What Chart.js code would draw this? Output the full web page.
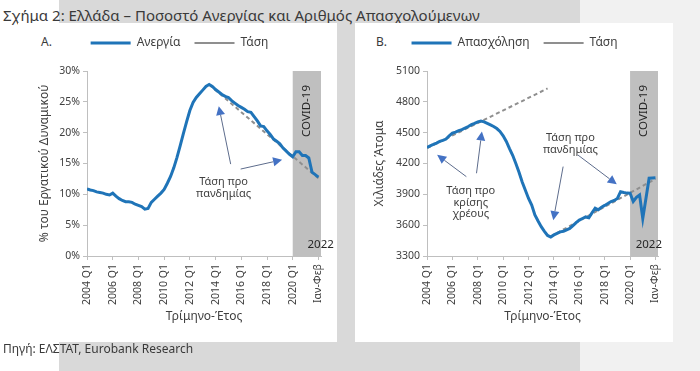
<!DOCTYPE html>
<html>
<head>
<meta charset="utf-8">
<script src="https://cdn.jsdelivr.net/npm/chart.js@4.4.1/dist/chart.umd.min.js"></script>
<style>
  html, body { margin: 0; padding: 0; }
  body { width: 700px; height: 371px; position: relative; overflow: hidden; background: #fff;
         font-family: 'Noto Sans', sans-serif; color: #3a3a3a; }
  .band { position: absolute; left: 59px; top: 0; width: 521px; height: 371px; background: #d9d9d9; }
  .side { position: absolute; left: 580px; top: 0; width: 120px; height: 371px; background: #f1f1f1; }
  .title { position: absolute; left: 3px; top: 5px; font-size: 15px; line-height: 20px; white-space: nowrap; }
  .card { position: absolute; top: 23px; height: 319px; background: #fff; }
  #cardA { left: 18px; width: 319px; }
  #cardB { left: 355px; width: 318px; }
  .tag { position: absolute; top: 11px; font-size: 12px; line-height: 16px; }
  .src { position: absolute; left: 3px; top: 341px; font-size: 12px; line-height: 16px; white-space: nowrap; }
  canvas { position: absolute; left: 0; top: 0; }
</style>
</head>
<body>
<div class="band"></div>
<div class="side"></div>
<div class="title">Σχήμα 2: Ελλάδα – Ποσοστό Ανεργίας και Αριθμός Απασχολούμενων</div>
<div class="card" id="cardA"><div class="tag" style="left:23px">Α.</div><canvas id="chartA" width="319" height="319"></canvas></div>
<div class="card" id="cardB"><div class="tag" style="left:21px">Β.</div><canvas id="chartB" width="318" height="319"></canvas></div>
<div class="src">Πηγή: ΕΛΣΤΑΤ, Eurobank Research</div>

<script>
// x axis: quarters 2004 Q1 ... 2021 Q4, then Jan-Feb 2022 (index 72)
const tickLabels = ['2004 Q1', '2006 Q1', '2008 Q1', '2010 Q1', '2012 Q1', '2014 Q1',
                    '2016 Q1', '2018 Q1', '2020 Q1', 'Ιαν-Φεβ'];
const covidFrom = 64;

// Panel A: unemployment rate, % of labour force
const unemployment = [
  10.9, 10.7, 10.6, 10.4, 10.3, 10.2, 10.0, 9.9,
  10.2, 9.7, 9.3, 9.0, 8.8, 8.8, 8.7, 8.4,
  8.2, 8.0, 7.6, 7.7, 8.7, 9.2, 9.7, 10.2,
  10.8, 11.8, 12.9, 14.3, 16.0, 17.9, 19.9, 21.8,
  23.6, 24.9, 25.7, 26.3, 26.9, 27.5, 27.8, 27.5,
  27.0, 26.6, 26.2, 25.9, 25.7, 25.2, 24.8, 24.4,
  24.1, 23.8, 23.4, 23.3, 22.6, 21.9, 21.1, 21.0,
  20.3, 19.7, 19.0, 18.6, 18.2, 17.5, 17.0, 16.5,
  16.1, 16.9, 16.9, 16.3, 16.3, 15.9, 13.6, 13.2,
  12.8
];
const unempTrendX = [38, 72];
const unempTrendY = [27.8, 12.6];

// Panel B: employment, thousands of persons
const employment = [
  4356, 4372, 4385, 4399, 4415, 4425, 4438, 4470,
  4496, 4505, 4520, 4529, 4545, 4560, 4578, 4590,
  4605, 4612, 4605, 4590, 4575, 4560, 4540, 4512,
  4470, 4414, 4345, 4280, 4200, 4115, 4020, 3940,
  3860, 3795, 3700, 3640, 3585, 3540, 3500, 3485,
  3505, 3520, 3535, 3540, 3555, 3568, 3595, 3625,
  3649, 3665, 3680, 3672, 3720, 3765, 3750, 3775,
  3792, 3810, 3830, 3840, 3860, 3926, 3918, 3912,
  3910, 3830, 3870, 3893, 3665, 3860, 4057, 4060,
  4062
];
const debtTrendX = [0, 38];
const debtTrendY = [4350, 4930];
const pandTrendX = [39, 72];
const pandTrendY = [3490, 4050];

const blue = '#1f74b8';
const grey = '#8f8f8f';

Chart.defaults.font.family = "'Noto Sans', sans-serif";
Chart.defaults.color = '#404040';

const points = vals => vals.map((v, i) => ({ x: i, y: v }));
const segment = (xs, ys) => xs.map((x, i) => ({ x, y: ys[i] }));

// extra room under the legend, and a small sideways shift of it
const legendTweak = {
  id: 'legendTweak',
  beforeLayout(chart, args, opts) {
    const lg = chart.legend;
    if (lg && !lg._tweaked) {
      const fit = lg.fit;
      const draw = lg.draw;
      lg.fit = function () { fit.call(this); this.height += opts.extra; };
      lg.draw = function () {
        const c = this.ctx;
        c.save();
        c.translate(opts.dx, 0);
        draw.call(this);
        c.restore();
      };
      lg._tweaked = true;
    }
  }
};

const covidBand = {
  id: 'covidBand',
  beforeDatasetsDraw(chart, args, o) {
    const { ctx, chartArea: a, scales: { x } } = chart;
    const x1 = x.getPixelForValue(o.from);
    ctx.save();
    ctx.fillStyle = '#bfbfbf';
    ctx.fillRect(x1, a.top, a.right - x1, a.bottom - a.top);
    ctx.fillStyle = '#262626';
    ctx.font = "11.5px 'Noto Sans'";
    ctx.textAlign = 'center';
    ctx.textBaseline = 'middle';
    ctx.fillText('2022', x.getPixelForValue(o.yearAt), a.bottom - 11);
    ctx.translate((x1 + a.right) / 2, a.top + 40);
    ctx.rotate(-Math.PI / 2);
    ctx.fillText('COVID-19', 0, 0);
    ctx.restore();
  }
};

const notes = {
  id: 'notes',
  afterDatasetsDraw(chart, args, o) {
    const { ctx, scales: { x, y } } = chart;
    ctx.save();
    ctx.font = "11px 'Noto Sans'";
    ctx.textAlign = 'center';
    ctx.textBaseline = 'middle';
    o.texts.forEach(t => {
      ctx.fillStyle = '#404040';
      t.lines.forEach((line, i) => {
        ctx.fillText(line, x.getPixelForValue(t.x), y.getPixelForValue(t.y) + i * 11.5);
      });
    });
    o.arrows.forEach(([ax, ay, bx, by]) => {
      const x1 = x.getPixelForValue(ax), y1 = y.getPixelForValue(ay);
      const x2 = x.getPixelForValue(bx), y2 = y.getPixelForValue(by);
      const ang = Math.atan2(y2 - y1, x2 - x1);
      const len = 9, half = 4.5;
      ctx.strokeStyle = '#5d6c8c';
      ctx.lineWidth = 1;
      ctx.beginPath();
      ctx.moveTo(x1, y1);
      ctx.lineTo(x2 - Math.cos(ang) * len, y2 - Math.sin(ang) * len);
      ctx.stroke();
      ctx.fillStyle = '#4472c4';
      ctx.beginPath();
      ctx.moveTo(x2, y2);
      ctx.lineTo(x2 - Math.cos(ang) * len - Math.sin(ang) * half, y2 - Math.sin(ang) * len + Math.cos(ang) * half);
      ctx.lineTo(x2 - Math.cos(ang) * len + Math.sin(ang) * half, y2 - Math.sin(ang) * len - Math.cos(ang) * half);
      ctx.closePath();
      ctx.fill();
    });
    ctx.restore();
  }
};

function makePanel(id, p) {
  const datasets = [
    { label: p.label, data: points(p.values), borderColor: blue, backgroundColor: blue,
      borderWidth: 3, pointRadius: 0 }
  ];
  p.trends.forEach(tr => datasets.push({
    label: 'Τάση', data: segment(tr[0], tr[1]), borderColor: grey, backgroundColor: grey,
    borderWidth: 2, borderDash: [4, 3], pointRadius: 0
  }));

  new Chart(document.getElementById(id), {
    type: 'line',
    data: { datasets },
    options: {
      responsive: false,
      animation: false,
      events: [],
      layout: { padding: { top: 0, right: p.padRight, bottom: 0, left: 0 } },
      plugins: {
        tooltip: { enabled: false },
        legend: {
          display: true,
          labels: {
            usePointStyle: true,
            pointStyle: 'line',
            pointStyleWidth: 40,
            boxWidth: 36,
            padding: 14,
            color: '#404040',
            font: { size: 12 },
            filter: item => item.datasetIndex < 2
          }
        },
        legendTweak: { extra: 12, dx: p.legendDx },
        covidBand: { from: covidFrom, yearAt: p.yearAt },
        notes: { texts: p.texts, arrows: p.arrows }
      },
      scales: {
        x: {
          type: 'linear',
          min: 0,
          max: 72.8,
          afterFit: s => { s.height = 86; },
          grid: { drawOnChartArea: false, drawTicks: true, tickLength: 4, color: '#bfbfbf' },
          border: { color: '#bfbfbf' },
          ticks: {
            stepSize: 8,
            includeBounds: false,
            autoSkip: false,
            minRotation: 90,
            maxRotation: 90,
            padding: 4,
            color: '#404040',
            font: { size: 10.5 },
            callback: v => tickLabels[v / 8]
          },
          title: { display: true, text: 'Τρίμηνο-Έτος', color: '#404040', font: { size: 12 },
                   padding: { top: 0, bottom: 18 } }
        },
        y: {
          min: p.yMin,
          max: p.yMax,
          afterFit: s => { s.width = p.yWidth; },
          grid: { drawOnChartArea: false, drawTicks: true, tickLength: 4, color: '#bfbfbf' },
          border: { color: '#bfbfbf' },
          ticks: { stepSize: p.yStep, padding: 3, color: '#404040', font: { size: 10.5 },
                   callback: p.yFormat },
          title: { display: true, text: p.yTitle, color: '#404040', font: { size: 12 },
                   padding: { top: p.yTitlePad, bottom: 0 } }
        }
      }
    },
    plugins: [legendTweak, covidBand, notes]
  });
}

makePanel('chartA', {
  label: 'Ανεργία',
  values: unemployment,
  trends: [[unempTrendX, unempTrendY]],
  yMin: 0, yMax: 30, yStep: 5,
  yFormat: v => v + '%',
  yTitle: '% του Εργατικού Δυναμικού',
  yWidth: 69, yTitlePad: 19, padRight: 16,
  legendDx: 10,
  yearAt: 72.7,
  texts: [{ lines: ['Τάση προ', 'πανδημίας'], x: 42.5, y: 12.0 }],
  arrows: [[44.7, 14.9, 41.0, 24.3], [47.8, 14.1, 60.7, 15.6]]
});

makePanel('chartB', {
  label: 'Απασχόληση',
  values: employment,
  trends: [[debtTrendX, debtTrendY], [pandTrendX, pandTrendY]],
  yMin: 3300, yMax: 5100, yStep: 300,
  yFormat: v => String(v),
  yTitle: 'Χιλιάδες Άτομα',
  yWidth: 72, yTitlePad: 17, padRight: 15,
  legendDx: 8,
  yearAt: 69.9,
  texts: [
    { lines: ['Τάση προ', 'κρίσης', 'χρέους'], x: 13.8, y: 3932 },
    { lines: ['Τάση προ', 'πανδημίας'], x: 45.2, y: 4448 }
  ],
  arrows: [
    [12.4, 4072, 3.2, 4284],
    [15.6, 4105, 17.3, 4512],
    [42.9, 4170, 39.8, 3649],
    [47.5, 4284, 59.8, 3998]
  ]
});
</script>
</body>
</html>
